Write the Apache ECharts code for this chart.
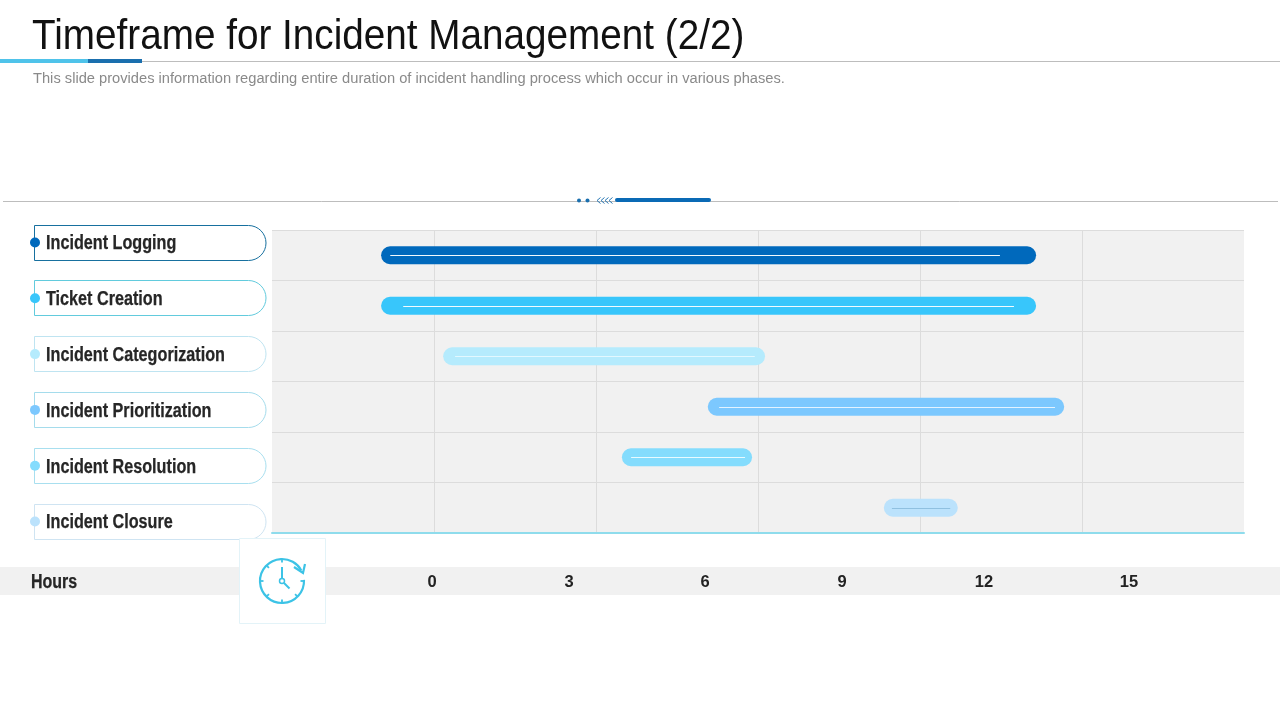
<!DOCTYPE html>
<html><head><meta charset="utf-8">
<style>html,body{margin:0;padding:0;background:#fff}#c{width:1280px;height:720px}</style>
<script src="https://cdn.jsdelivr.net/npm/echarts@6/dist/echarts.min.js"></script>
</head><body><div id="c"></div>
<script>
const categories = ['Incident Logging','Ticket Creation','Incident Categorization','Incident Prioritization','Incident Resolution','Incident Closure'];
const barStart = [-0.98,-0.98,0.17,5.07,3.48,8.33];
const barEnd = [11.15,11.15,6.13,11.67,5.89,9.7];
const innerStart = [-0.81,-0.57,0.39,5.28,3.65,8.48];
const innerEnd = [10.48,10.74,5.94,11.5,5.76,9.56];
const tickLabels = ['0','3','6','9','12','15'];

const barColors = ['#0069BC','#38C6FB','#B5EBFD','#7CC8FE','#84DCFD','#BBE2FC'];
const innerColors = ['#F2F9FD','#F2FBFF','#E3F8FF','#E3F3FF','#E8FAFF','#8FC0E0'];
const pillColors = ['#17709F','#62CBDD','#BFE4F1','#A5DCEC','#A8DFEF','#CFE4F2'];
const dotColors = ['#0069BC','#38C6FB','#B5EBFD','#7CC8FE','#84DCFD','#BBE2FC'];
const tickLabelPx = [432,569,705,842,984,1129];
const FONT = '"Liberation Sans",Arial,sans-serif';

const chart = echarts.init(document.getElementById('c'), null, {renderer:'canvas', width:1280, height:720});

const rect = (x,y,w,h,fill,z) => ({type:'rect', z:z||0, silent:true, shape:{x,y,width:w,height:h}, style:{fill}});
const stroke = '#3CC3E6';
const Z = 6;
const chev = x => ({type:'polyline', silent:true, shape:{points:[[x+3.5,197.5],[x,200.5],[x+3.5,203.5]]}, style:{stroke:'#2A78B4',fill:null,lineWidth:1}});
const tickMarks = [];
for (let i=0;i<8;i++){
  const a = i*Math.PI/4;
  if (i===1) continue;
  tickMarks.push({type:'line', z:Z, silent:true, shape:{x1:282+Math.sin(a)*18.5,y1:581-Math.cos(a)*18.5,x2:282+Math.sin(a)*22,y2:581-Math.cos(a)*22}, style:{stroke,lineWidth:1.8}});
}

chart.setOption({
  animation:false,
  backgroundColor:'#fff',
  grid:[
    {left:272, top:230, width:972, height:303, show:true, backgroundColor:'#F1F1F1', borderWidth:0},
    {left:34, top:214.6, width:232, height:334.8, show:false}
  ],
  xAxis:[
    {type:'value', gridIndex:0, min:-3, max:15, interval:3,
     axisLabel:{show:false}, axisTick:{show:false},
     axisLine:{show:true,onZero:false,lineStyle:{color:'#8FDCEC',width:2}},
     splitLine:{show:true,showMinLine:false,showMaxLine:false,lineStyle:{color:'#DCDCDC',width:1}}},
    {type:'value', gridIndex:0, min:272, max:1244, position:'bottom',
     axisLine:{show:false}, axisTick:{show:false}, splitLine:{show:false},
     axisLabel:{show:true, customValues:tickLabelPx, margin:41, hideOverlap:false, showMinLabel:true, showMaxLabel:true,
       formatter:v=>tickLabels[tickLabelPx.indexOf(v)], fontFamily:FONT, fontSize:16.5, fontWeight:'bold', color:'#222'}},
    {type:'value', gridIndex:1, min:0, max:1, show:false}
  ],
  yAxis:[
    {type:'category', gridIndex:0, inverse:true, data:categories,
     axisLabel:{show:false}, axisTick:{show:false}, axisLine:{show:false},
     splitLine:{show:true,lineStyle:{color:'#DCDCDC',width:1}}},
    {type:'category', gridIndex:1, inverse:true, data:categories,
     axisTick:{show:false}, axisLine:{show:false}, splitLine:{show:false}, axisLabel:{show:false}}
  ],
  series:[
    {type:'custom', name:'Duration', xAxisIndex:0, yAxisIndex:0, z:3, silent:true, clip:false,
     encode:{x:[0,1],y:4},
     data:categories.map((c,i)=>[barStart[i],barEnd[i],innerStart[i],innerEnd[i],i]),
     renderItem(p,api){
       const i=api.value(4), a=api.coord([api.value(0),i]), b=api.coord([api.value(1),i]),
             s=api.coord([api.value(2),i]), e=api.coord([api.value(3),i]), h=18;
       return {type:'group',children:[
         {type:'line',shape:{x1:a[0]+h/2,y1:a[1],x2:b[0]-h/2,y2:b[1]},style:{stroke:barColors[i],lineWidth:h,lineCap:'round'}},
         {type:'line',z2:2,shape:{x1:s[0],y1:Math.round(s[1])+0.5,x2:e[0],y2:Math.round(e[1])+0.5},style:{stroke:innerColors[i],lineWidth:1.2}}
       ]};
     }},
    {type:'custom', name:'Phases', xAxisIndex:2, yAxisIndex:1, z:1, silent:true, clip:false,
     encode:{x:0,y:1},
     data:categories.map((c,i)=>[0,i]),
     renderItem(p,api){
       const i=api.value(1), a=api.coord([0,i]), b=api.coord([1,i]), h=35;
       return {type:'group',children:[
         {type:'rect',shape:{x:a[0]+.5,y:Math.floor(a[1]-h/2+0.1)+.5,width:b[0]-a[0]-.5,height:h,r:[0,17.5,17.5,0]},style:{fill:'#fff',stroke:pillColors[i],lineWidth:1}},
         {type:'circle',z2:2,shape:{cx:a[0]+1,cy:a[1],r:5},style:{fill:dotColors[i]}},
         {type:'text',z2:3,x:a[0]+12,y:a[1]+1.5,scaleX:0.83,style:{text:categories[i],verticalAlign:'middle',align:'left',fontFamily:FONT,fontSize:19.5,fontWeight:'bold',fill:'#262626',stroke:'#262626',lineWidth:0.25}}
       ]};
     }}
  ],
  graphic:{elements:[
    {type:'text',silent:true,x:32,y:16,scaleX:0.921,style:{text:'Timeframe for Incident Management (2/2)',fontFamily:FONT,fontSize:42,fill:'#111',verticalAlign:'top'}},
    {type:'text',silent:true,x:33,y:71,style:{text:'This slide provides information regarding entire duration of incident handling process which occur in various phases.',fontFamily:FONT,fontSize:14.68,fill:'#8A8A8A',verticalAlign:'top'}},
    {type:'line',silent:true,z:-1,shape:{x1:0,y1:61.5,x2:1280,y2:61.5},style:{stroke:'#BDBDBD',lineWidth:1}},
    rect(0,59,88,4,'#4FC3EA'),
    rect(88,59,54,4,'#1A6FAE'),
    {type:'line',silent:true,z:-1,shape:{x1:3,y1:201.5,x2:1278,y2:201.5},style:{stroke:'#BDBDBD',lineWidth:1}},
    {type:'circle',silent:true,shape:{cx:579,cy:200.5,r:2},style:{fill:'#1A6FAE'}},
    {type:'circle',silent:true,shape:{cx:587.5,cy:200.5,r:2},style:{fill:'#1A6FAE'}},
    chev(597),chev(601),chev(605),chev(609),
    {type:'rect',silent:true,shape:{x:615,y:198,width:96,height:4,r:2},style:{fill:'#0A6AB5'}},
    rect(0,567,1280,28,'#F1F1F1',-2),
    {type:'text',silent:true,x:31,y:583,scaleX:0.82,z:5,style:{text:'Hours',verticalAlign:'middle',fontFamily:FONT,fontSize:19.5,fontWeight:'bold',fill:'#262626',stroke:'#262626',lineWidth:0.25}},
    {type:'rect',z:5,silent:true,shape:{x:239.5,y:538.5,width:86,height:85},style:{fill:'#fff',stroke:'#E3F3F8',lineWidth:1}},
    {type:'arc',z:Z,silent:true,shape:{cx:282,cy:581,r:22,startAngle:-0.05,endAngle:-0.5+2*Math.PI,clockwise:true},style:{stroke,lineWidth:2.2,fill:null}},
    {type:'polyline',z:Z,silent:true,shape:{points:[[294,567],[303,573],[305,564]]},style:{stroke,lineWidth:2.2,fill:null}},
    {type:'line',z:Z,silent:true,shape:{x1:282,y1:567,x2:282,y2:578},style:{stroke,lineWidth:2}},
    {type:'line',z:Z,silent:true,shape:{x1:284,y1:583,x2:289.5,y2:588.5},style:{stroke,lineWidth:2}},
    {type:'circle',z:Z,silent:true,shape:{cx:282,cy:581,r:2.5},style:{stroke,lineWidth:1.5,fill:'#fff'}},
    ...tickMarks
  ]}
});
</script></body></html>
